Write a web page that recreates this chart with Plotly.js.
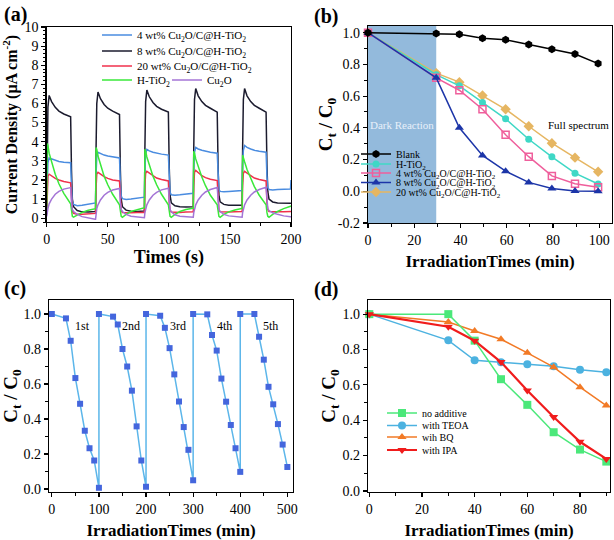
<!DOCTYPE html>
<html><head><meta charset="utf-8">
<script src="https://cdn.plot.ly/plotly-3.0.1.min.js"></script>
<style>html,body{margin:0;padding:0;background:#fff}#chart{width:614px;height:540px}</style>
</head><body><div id="chart"></div>
<script>
// ---------- Panel (a): photocurrent vs time ----------
const cycleStarts = [0, 40, 80, 120, 160];
const cycleOffsets = [0, 0.4, 1, 2, 4, 7, 10, 14, 19.6, 20.3, 21, 22, 25, 29, 34, 39.6];
const endTime = 200;
const jA_4wt = [
  0.5, 2.0, 2.9, 3.15, 3.1, 3.02, 2.97, 2.93, 2.9, 1.6, 0.9, 0.72, 0.65, 0.68, 0.72, 0.8,
  0.8, 2.3, 3.2, 3.45, 3.38, 3.3, 3.25, 3.2, 3.15, 1.8, 1.15, 1.02, 0.98, 1.0, 1.05, 1.1,
  1.1, 2.5, 3.35, 3.6, 3.52, 3.45, 3.4, 3.35, 3.3, 2.0, 1.35, 1.22, 1.2, 1.22, 1.25, 1.3,
  1.3, 2.7, 3.45, 3.7, 3.62, 3.55, 3.5, 3.45, 3.4, 2.1, 1.5, 1.4, 1.38, 1.4, 1.42, 1.45,
  1.45, 2.8, 3.55, 3.8, 3.7, 3.62, 3.55, 3.5, 3.45, 2.2, 1.6, 1.5, 1.48, 1.5, 1.5, 1.52,
  2.0];
const jA_8wt = [
  0.3, 3.5, 5.8, 6.42, 6.1, 5.8, 5.6, 5.45, 5.3, 2.5, 1.0, 0.6, 0.4, 0.33, 0.32, 0.35,
  0.35, 3.6, 6.0, 6.6, 6.25, 5.95, 5.75, 5.6, 5.42, 2.5, 1.0, 0.6, 0.42, 0.36, 0.35, 0.38,
  0.38, 3.7, 6.1, 6.7, 6.35, 6.05, 5.85, 5.7, 5.55, 2.7, 1.2, 0.8, 0.65, 0.6, 0.58, 0.6,
  0.6, 3.7, 6.2, 6.78, 6.4, 6.1, 5.9, 5.75, 5.55, 2.7, 1.2, 0.85, 0.72, 0.68, 0.67, 0.68,
  0.68, 3.7, 6.2, 6.78, 6.4, 6.1, 5.9, 5.75, 5.55, 2.8, 1.4, 1.0, 0.85, 0.8, 0.78, 0.78,
  0.8];
const jA_20wt = [
  0.2, 1.5, 2.2, 2.3, 2.2, 2.08, 2.0, 1.92, 1.85, 0.8, 0.35, 0.25, 0.2, 0.2, 0.22, 0.25,
  0.25, 1.6, 2.3, 2.4, 2.3, 2.17, 2.08, 2.0, 1.95, 0.8, 0.4, 0.3, 0.28, 0.28, 0.3, 0.3,
  0.3, 1.7, 2.35, 2.45, 2.35, 2.2, 2.1, 2.02, 1.95, 0.8, 0.42, 0.32, 0.3, 0.3, 0.32, 0.33,
  0.33, 1.7, 2.4, 2.5, 2.38, 2.22, 2.12, 2.04, 1.97, 0.8, 0.42, 0.33, 0.32, 0.32, 0.33, 0.35,
  0.35, 1.7, 2.35, 2.45, 2.35, 2.2, 2.1, 2.02, 1.95, 0.8, 0.45, 0.35, 0.33, 0.33, 0.34, 0.35,
  0.35];
const jA_HTiO2 = [
  0.2, 3.9, 3.8, 3.4, 2.9, 2.3, 1.8, 1.3, 0.75, 0.35, 0.1, 0.05, 0.15, 0.3, 0.42, 0.5,
  0.5, 3.7, 3.6, 3.25, 2.8, 2.2, 1.75, 1.25, 0.7, 0.3, 0.1, 0.05, 0.2, 0.35, 0.45, 0.55,
  0.55, 3.6, 3.5, 3.2, 2.75, 2.2, 1.75, 1.25, 0.7, 0.3, 0.1, 0.05, 0.2, 0.35, 0.45, 0.52,
  0.52, 3.5, 3.4, 3.1, 2.7, 2.15, 1.7, 1.2, 0.7, 0.3, 0.1, 0.05, 0.2, 0.33, 0.43, 0.5,
  0.5, 3.3, 3.2, 2.95, 2.55, 2.05, 1.65, 1.2, 0.7, 0.3, 0.1, 0.05, 0.2, 0.35, 0.5, 0.62,
  0.65];
const jA_Cu2O = [
  0.1, 0.3, 0.5, 0.75, 1.0, 1.25, 1.4, 1.52, 1.6, 0.8, 0.45, 0.35, 0.2, 0.08, 0.0, -0.05,
  -0.05, 0.3, 0.5, 0.7, 0.95, 1.2, 1.35, 1.47, 1.55, 0.8, 0.45, 0.35, 0.2, 0.1, 0.05, 0.02,
  0.02, 0.3, 0.5, 0.7, 0.95, 1.2, 1.35, 1.48, 1.57, 0.8, 0.45, 0.33, 0.18, 0.1, 0.06, 0.05,
  0.05, 0.3, 0.5, 0.7, 0.95, 1.2, 1.37, 1.5, 1.6, 0.8, 0.45, 0.35, 0.2, 0.12, 0.08, 0.05,
  0.05, 0.3, 0.5, 0.7, 0.95, 1.2, 1.37, 1.5, 1.62, 0.8, 0.5, 0.4, 0.28, 0.2, 0.12, 0.08,
  0.08];

// ---------- Panel (b): degradation ----------
const timeB = [0, 29.5, 39.5, 49.5, 59.5, 69.5, 79.5, 89.5, 99.5];
const darkEnd = 29.5;
const cBlank = [1.0, 0.995, 0.99, 0.965, 0.955, 0.925, 0.895, 0.865, 0.805];
const cHTiO2 = [1.0, 0.735, 0.665, 0.56, 0.457, 0.328, 0.217, 0.114, 0.046];
const c4wt = [1.0, 0.715, 0.637, 0.517, 0.356, 0.218, 0.097, 0.048, 0.025];
const c8wt = [1.0, 0.715, 0.40, 0.226, 0.127, 0.056, 0.018, 0.002, 0.0];
const c20wt = [1.0, 0.745, 0.688, 0.604, 0.517, 0.41, 0.303, 0.212, 0.123];
const tickValsB = [-0.2, 0.0, 0.2, 0.4, 0.6, 0.8, 1.0];
const tickTextB = ['-0.2', '0.0', '0.2', '0.4', '0.6', '0.8', '1.0'];

// ---------- Panel (c): recycling ----------
const timeC = [0, 30, 40, 50, 60, 70, 80, 90, 100,
  100, 130, 140, 150, 160, 170, 180, 190, 200,
  200, 230, 240, 250, 260, 270, 280, 290, 300,
  300, 330, 340, 350, 360, 370, 380, 390, 400,
  400, 430, 440, 450, 460, 470, 480, 490, 500];
const cCycle = [1.0, 0.975, 0.847, 0.634, 0.487, 0.333, 0.233, 0.163, 0.007,
  1.0, 0.985, 0.94, 0.80, 0.70, 0.562, 0.358, 0.163, 0.013,
  1.0, 0.99, 0.921, 0.805, 0.655, 0.50, 0.354, 0.224, 0.05,
  1.0, 0.998, 0.88, 0.791, 0.631, 0.499, 0.366, 0.233, 0.098,
  1.0, 1.0, 0.87, 0.739, 0.584, 0.484, 0.371, 0.254, 0.126];
const cycleLabels = ['1st', '2nd', '3rd', '4th', '5th'];
const cycleLabelX = [66, 168, 267, 366, 465];
const cycleLabelY = 0.93;

// ---------- Panel (d): scavengers ----------
const timeD = [0, 30, 40, 50, 60, 70, 80, 90];
const cNoAdd = [1.0, 1.0, 0.85, 0.632, 0.487, 0.332, 0.234, 0.166];
const cTEOA = [1.0, 0.852, 0.739, 0.728, 0.717, 0.705, 0.686, 0.672];
const cBQ = [1.0, 0.955, 0.905, 0.858, 0.781, 0.70, 0.587, 0.483];
const cIPA = [1.0, 0.929, 0.85, 0.729, 0.568, 0.418, 0.278, 0.181];

// ---------- Build ----------
const timeA = cycleStarts.flatMap(s => cycleOffsets.map(o => s + o)).concat([endTime]);
const FONT = '"Liberation Serif", "Times New Roman", serif';
const W = 614, H = 540;

function legendAt(px, py, size) {
  return {x: px / W, y: 1 - py / H, xanchor: 'left', yanchor: 'middle',
    bgcolor: 'rgba(0,0,0,0)', borderwidth: 0, itemwidth: 30,
    font: {family: FONT, size: size, color: '#000'}};
}

const traces = [];
function lineA(y, name, color, leg) {
  traces.push({x: timeA, y: y, name: name, mode: 'lines', xaxis: 'x', yaxis: 'y',
    line: {color: color, width: 1.5}, legend: leg});
}
lineA(jA_8wt, '8 wt% Cu<sub>2</sub>O/C@H-TiO<sub>2</sub>', '#1b1b2e', 'legend2');
lineA(jA_4wt, '4 wt% Cu<sub>2</sub>O/C@H-TiO<sub>2</sub>', '#4a8ce0', 'legend');
lineA(jA_20wt, '20 wt% Cu<sub>2</sub>O/C@H-TiO<sub>2</sub>', '#f0304c', 'legend3');
lineA(jA_HTiO2, 'H-TiO<sub>2</sub>', '#3ae83a', 'legend4');
lineA(jA_Cu2O, 'Cu<sub>2</sub>O', '#a474d6', 'legend5');

function lineB(y, name, color, symbol, size, leg, extra) {
  traces.push(Object.assign({x: timeB, y: y, name: name, mode: 'lines+markers', xaxis: 'x2', yaxis: 'y2',
    line: {color: color, width: 1.5}, marker: {color: color, symbol: symbol, size: size},
    cliponaxis: false, legend: leg}, extra || {}));
}
lineB(c20wt, '20 wt% Cu<sub>2</sub>O/C@H-TiO<sub>2</sub>', '#e6b662', 'diamond', 8, 'legend10');
lineB(cHTiO2, 'H-TiO<sub>2</sub>', '#3fd8c6', 'circle', 7, 'legend7');
lineB(c4wt, '4 wt% Cu<sub>2</sub>O/C@H-TiO<sub>2</sub>', '#ef5f9c', 'square-open', 7, 'legend8',
  {marker: {color: '#ef5f9c', symbol: 'square-open', size: 7, line: {width: 1.5}}});
lineB(c8wt, '8 wt% Cu<sub>2</sub>O/C@H-TiO<sub>2</sub>', '#1c35a8', 'triangle-up', 8, 'legend9');
lineB(cBlank, 'Blank', '#000000', 'hexagon', 8, 'legend6');

traces.push({x: timeC, y: cCycle, mode: 'lines+markers', xaxis: 'x3', yaxis: 'y3', showlegend: false,
  line: {color: '#5cb6ea', width: 1.5}, marker: {color: '#4466dd', symbol: 'square', size: 6},
  cliponaxis: false, name: 'cycle'});

function lineD(y, name, color, symbol, width, leg) {
  traces.push({x: timeD, y: y, name: name, mode: 'lines+markers', xaxis: 'x4', yaxis: 'y4',
    line: {color: color, width: width}, marker: {color: color, symbol: symbol, size: 8},
    cliponaxis: false, legend: leg});
}
lineD(cTEOA, 'with TEOA', '#4cb2e0', 'circle', 1.5, 'legend12');
lineD(cBQ, 'wih BQ', '#f27a26', 'triangle-up', 1.5, 'legend13');
lineD(cNoAdd, 'no additive', '#4be87a', 'square', 1.5, 'legend11');
lineD(cIPA, 'with IPA', '#f01c1c', 'triangle-down', 2.2, 'legend14');

const baseAxis = {
  showline: true, mirror: true, linecolor: '#000', linewidth: 1.3,
  ticks: 'outside', ticklen: 4, tickwidth: 1.2, tickcolor: '#000',
  showgrid: false, zeroline: false, automargin: false,
  tickfont: {family: FONT, size: 14, color: '#000'},
  minor: {ticks: 'outside', ticklen: 2.5, tickwidth: 1, tickcolor: '#000', showgrid: false}
};
function ax(opts) { return Object.assign({}, baseAxis, opts, {minor: Object.assign({}, baseAxis.minor, opts.minor || {})}); }
function dx(l, r) { return [l / W, r / W]; }
function dy(top, bottom) { return [1 - bottom / H, 1 - top / H]; }
const titleOf = (t, s, so) => ({text: t, font: {family: FONT, size: s, color: '#000', weight: 'bold'}, standoff: so});
const ctc0 = 'C<sub>t</sub> / C<sub>0</sub>';
const xLabelShift = -4.5;

const layout = {
  width: W, height: H, margin: {l: 0, r: 0, t: 0, b: 0},
  paper_bgcolor: '#fff', plot_bgcolor: 'rgba(0,0,0,0)',
  font: {family: FONT, color: '#000'},
  xaxis: ax({domain: dx(46.7, 291), range: [0, 200], dtick: 50, minor: {dtick: 25}, anchor: 'y',
    ticklabelstandoff: xLabelShift, title: titleOf('Times (s)', 18, 4)}),
  yaxis: ax({domain: dy(27, 222), range: [-0.2, 10], dtick: 1, tick0: 0, anchor: 'x',
    title: titleOf('Current Density (μA cm<sup>-2</sup>)', 16, 8)}),
  xaxis2: ax({domain: dx(368, 612), range: [0, 105.5], dtick: 20, minor: {dtick: 10}, anchor: 'y2',
    ticklabelstandoff: xLabelShift, title: titleOf('IrradiationTimes (min)', 17, 8)}),
  yaxis2: ax({domain: dy(26, 223), range: [-0.2, 1.042], tickmode: 'array', tickvals: tickValsB, ticktext: tickTextB,
    minor: {dtick: 0.1, tick0: 0}, anchor: 'x2', title: titleOf(ctc0, 19, 0)}),
  xaxis3: ax({domain: dx(49, 293), range: [-6, 512], dtick: 100, minor: {dtick: 50}, anchor: 'y3',
    ticklabelstandoff: xLabelShift, title: titleOf('IrradiationTimes (min)', 17, 9)}),
  yaxis3: ax({domain: dy(300, 492), range: [-0.017, 1.08], dtick: 0.2, tick0: 0, tickformat: '.1f',
    minor: {dtick: 0.1}, anchor: 'x3', title: titleOf(ctc0, 19, 5)}),
  xaxis4: ax({domain: dx(368, 610), range: [-0.5, 91.4], dtick: 20, minor: {dtick: 10}, anchor: 'y4',
    ticklabelstandoff: xLabelShift, title: titleOf('IrradiationTimes (min)', 17, 9)}),
  yaxis4: ax({domain: dy(300, 492), range: [-0.006, 1.08], dtick: 0.2, tick0: 0, tickformat: '.1f',
    minor: {dtick: 0.1}, anchor: 'x4', title: titleOf(ctc0, 19, 0)}),
  legend: legendAt(97, 35, 11),
  legend2: legendAt(97, 51, 11),
  legend3: legendAt(97, 66, 11),
  legend4: legendAt(97, 80, 11),
  legend5: legendAt(167, 80, 11),
  legend6: legendAt(356, 154, 10),
  legend7: legendAt(356, 164, 10),
  legend8: legendAt(356, 173, 10),
  legend9: legendAt(356, 182.5, 10),
  legend10: legendAt(356, 192, 10),
  legend11: legendAt(382, 413, 10),
  legend12: legendAt(382, 425.5, 10),
  legend13: legendAt(382, 437, 10),
  legend14: legendAt(382, 450, 10),
  shapes: [{type: 'rect', xref: 'x2', yref: 'y2 domain', x0: 0, x1: darkEnd, y0: 0, y1: 1,
    fillcolor: '#93badc', line: {width: 0}, layer: 'below'}],
  annotations: [
    {text: '(a)', x: 2 / W, y: 1 - 1 / H},
    {text: '(b)', x: 312 / W, y: 1 - 3 / H},
    {text: '(c)', x: 2 / W, y: 1 - 275 / H},
    {text: '(d)', x: 312 / W, y: 1 - 276 / H}
  ].map(a => Object.assign(a, {xref: 'paper', yref: 'paper', xanchor: 'left', yanchor: 'top',
    showarrow: false, font: {family: FONT, size: 20, color: '#000', weight: 'bold'}})).concat([
    {text: 'Dark Reaction', xref: 'x2', yref: 'y2', x: darkEnd / 2, y: 0.42, showarrow: false,
      font: {family: FONT, size: 11, color: '#e8f0fa'}},
    {text: 'Full spectrum', xref: 'x2', yref: 'y2', x: 91, y: 0.42, showarrow: false,
      font: {family: FONT, size: 11, color: '#000'}}
  ]).concat(cycleLabels.map((t, i) => ({text: t, xref: 'x3', yref: 'y3', x: cycleLabelX[i], y: cycleLabelY,
    showarrow: false, font: {family: FONT, size: 12, color: '#000'}})))
};

Plotly.newPlot('chart', traces, layout, {displayModeBar: false, staticPlot: true});
</script></body></html>
